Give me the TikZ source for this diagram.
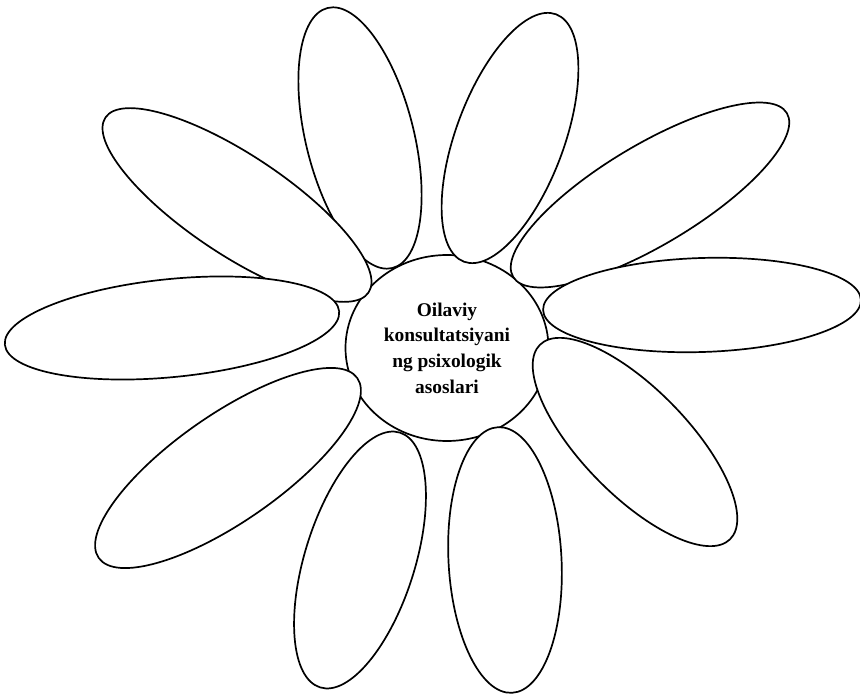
\documentclass[tikz,border=0pt]{standalone}
\usepackage{fontspec}
\setmainfont{Liberation Serif}
\usetikzlibrary{shapes.geometric}
\tikzset{
  petal/.style={draw, ellipse, fill=white, line width=1.7pt, inner sep=0pt},
  core/.style={draw, ellipse, line width=1.7pt, align=center, inner sep=0pt,
    font=\bfseries\fontsize{19.4}{25.7}\selectfont}
}
\begin{document}
\begin{tikzpicture}[x=1pt, y=-1pt]
\useasboundingbox (0,0) rectangle (860,695);
\node[core, minimum width=203pt, minimum height=186pt] (core) at (447,348) {Oilaviy\\konsultatsiyani\\ng psixologik\\asoslari};
% petals round the core
\node[petal, minimum width=268pt, minimum height=108pt, rotate=104] (p1) at (360,138) {};
\node[petal, minimum width=264pt, minimum height=108pt, rotate=69.6] (p2) at (510,138) {};
\node[petal, minimum width=316pt, minimum height=100pt, rotate=-33.6] (p3) at (237,205) {};
\node[petal, minimum width=319pt, minimum height=100pt, rotate=30.9] (p4) at (650,195) {};
\node[petal, minimum width=272pt, minimum height=106pt, rotate=-45.7] (p7) at (635,442) {};
\node[petal, minimum width=318pt, minimum height=94pt, rotate=1.8] (p5) at (702,305) {};
\node[petal, minimum width=315pt, minimum height=107pt, rotate=34.8] (p8) at (228,468) {};
\node[petal, minimum width=336pt, minimum height=98pt, rotate=5.7] (p6) at (172,328) {};
\node[petal, minimum width=267pt, minimum height=110pt, rotate=72.6] (p9) at (360,560) {};
\node[petal, minimum width=266pt, minimum height=113pt, rotate=93] (p10) at (505,560) {};
\end{tikzpicture}
\end{document}
